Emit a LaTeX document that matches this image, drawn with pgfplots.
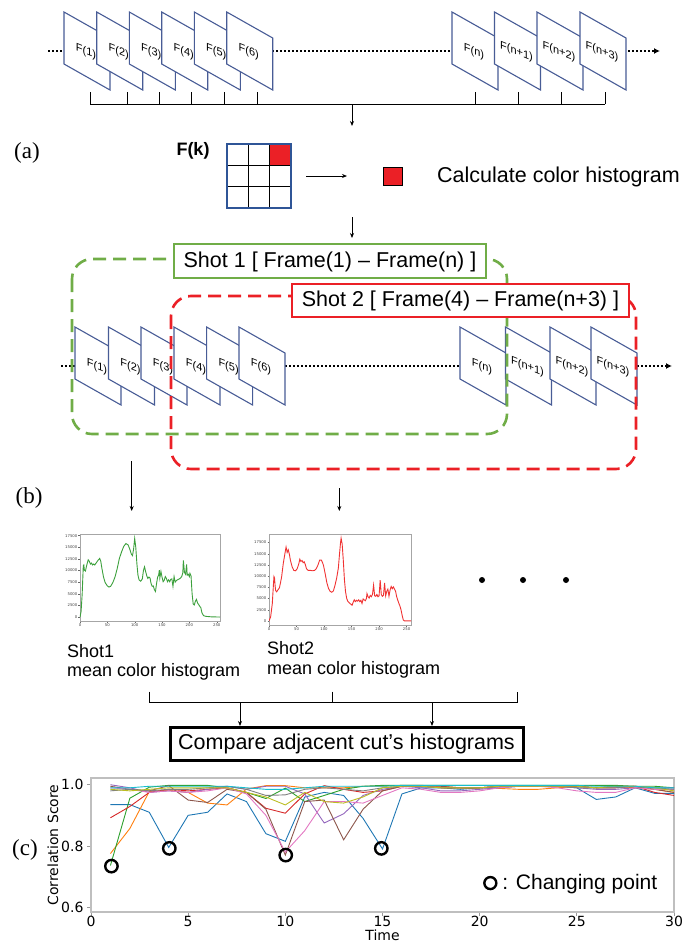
\documentclass[border=0pt]{standalone}
\usepackage{pgfplots}
\pgfplotsset{compat=1.18}
\usepackage{fontspec}
\setmainfont{Liberation Sans}
\newfontfamily\serif{Liberation Serif}
\newfontfamily\djv{DejaVu Sans}
\usetikzlibrary{arrows.meta}

\definecolor{frameblue}{RGB}{72,92,150}
\definecolor{gridblue}{RGB}{47,85,151}
\definecolor{shotgreen}{RGB}{112,173,71}
\definecolor{shotred}{RGB}{235,32,38}
\definecolor{histgreen}{RGB}{60,160,60}
\definecolor{histred}{RGB}{240,50,50}
\definecolor{c1}{HTML}{1F77B4}
\definecolor{c2}{HTML}{FF7F0E}
\definecolor{c3}{HTML}{2CA02C}
\definecolor{c4}{HTML}{D62728}
\definecolor{c5}{HTML}{9467BD}
\definecolor{c6}{HTML}{8C564B}
\definecolor{c7}{HTML}{E377C2}
\definecolor{c8}{HTML}{7F7F7F}
\definecolor{c9}{HTML}{BCBD22}
\definecolor{c10}{HTML}{17BECF}

\newcommand{\fs}[1]{\fontsize{#1}{#1}\selectfont}
% one video frame: left x, top y, label
\newcommand{\frm}[3]{%
  \filldraw[fill=white, draw=frameblue, line width=1.1pt]
    (#1,#2) -- ++(46,26) -- ++(0,52) -- ++(-46,-26) -- cycle;
  \begin{scope}[shift={(#1+22,#2+40)}]
    \node[yslant=-0.4, transform shape, font=\fs{11}, inner sep=0pt] at (0,0) {F(#3)};
  \end{scope}
}

\begin{document}
\begin{tikzpicture}
\useasboundingbox (0,0) rectangle (683pt,-943pt);

\begin{scope}[x=1pt, y=-1pt, >={Stealth[length=5pt,width=4pt]}]
% ---- top row of frames
\draw[line width=2.4pt, dash pattern=on 2.2pt off 1.8pt, -{Latex[length=6pt,width=6pt]}] (48,51) -- (660,51);
\foreach \x/\l in {64/1,96.7/2,129.3/3,161.7/4,194.3/5,226.7/6,452/n,494.5/n+1,537/n+2,580/n+3}
  {\frm{\x}{12}{\l}}
\draw[line width=0.8pt] (90,104) -- (605,104);
\foreach \x in {90,127,159,191,224,257,475,518.6,561.5,605}
  \draw[line width=0.8pt] (\x,104) -- (\x,92);
\draw[->, line width=0.8pt] (352,104) -- (352,126);

% ---- (a)
\node[font=\serif\fs{23}] at (27,153) {(a)};
\node[font=\bfseries\fs{18}] at (193,151) {F(k)};
\fill[shotred] (269.7,144) rectangle (291,165.3);
\draw[line width=0.8pt] (248.3,144) -- (248.3,208) (269.7,144) -- (269.7,208)
  (227,165.3) -- (291,165.3) (227,186.7) -- (291,186.7);
\draw[gridblue, line width=2.6pt] (227,144) rectangle (291,208);
\draw[->, line width=1pt] (306,176) -- (347,176);
\filldraw[fill=shotred, draw=black, line width=0.5pt] (383,167) rectangle (402,185);
\node[anchor=west, font=\fs{21.5}, inner sep=0pt] at (437,177) {Calculate color histogram};
\draw[->, line width=0.8pt] (352,217) -- (352,238);

% ---- middle row of frames
\draw[line width=2.4pt, dash pattern=on 2.2pt off 1.8pt, -{Latex[length=6pt,width=6pt]}] (61,366) -- (672,366);
\foreach \x/\l in {75/1,108.5/2,141/3,174/4,206.6/5,239/6,460/n,505.5/n+1,550/n+2,591/n+3}
  {\frm{\x}{327}{\l}}
\draw[shotgreen, line width=2.6pt, dash pattern=on 13pt off 7pt, rounded corners=20pt] (72,259) rectangle (507,434);
\filldraw[fill=white, draw=shotgreen, line width=2.6pt] (174,244) rectangle (486,278);
\node[font=\fs{21.5}] at (330,261.5) {Shot 1 [ Frame(1) – Frame(n) ]};
\draw[shotred, line width=2.6pt, dash pattern=on 13pt off 7pt, rounded corners=20pt] (171,296) rectangle (636,469);
\filldraw[fill=white, draw=shotred, line width=2.6pt] (292,284) rectangle (629,317);
\node[font=\fs{21.5}] at (460.5,301) {Shot 2 [ Frame(4) – Frame(n+3) ]};

% ---- (b)
\node[font=\serif\fs{23}] at (29,498) {(b)};
\draw[->, line width=0.9pt] (131.7,461) -- (131.7,511);
\draw[->, line width=0.9pt] (339.3,488) -- (339.3,511);
\foreach \x in {482,523,566} \fill (\x,580) circle (3pt);
\node[anchor=west, font=\fs{18}, inner sep=0pt] at (67,651) {Shot1};
\node[anchor=west, font=\fs{18}, inner sep=0pt] at (67,672) {mean color histogram};
\node[anchor=west, font=\fs{18}, inner sep=0pt] at (267,648) {Shot2};
\node[anchor=west, font=\fs{18}, inner sep=0pt] at (267,670) {mean color histogram};
\draw[line width=0.8pt] (149,691.7) -- (149,702.7) -- (517,702.7) -- (517,691.7)
  (332,691.7) -- (332,702.7);
\draw[->, line width=0.8pt] (240,702.7) -- (240,726);
\draw[->, line width=0.8pt] (432,702.7) -- (432,726);
\draw[line width=3pt] (170,727) rectangle (523,760);
\node[font=\fs{21.5}] at (346.5,744) {Compare adjacent cut's histograms};

% ---- (c)
\node[font=\serif\fs{23}] at (25,850) {(c)};
\end{scope}

% ---- small histograms
\pgfplotsset{hist/.style={
  anchor=north west, scale only axis,
  xmin=0, xmax=256, xtick={0,50,...,250},
  ytick={0,2500,...,17500},
  scaled y ticks=false,
  /pgf/number format/1000 sep={},
  /pgf/number format/assume math mode=true,
  tick label style={font=\djv\fs{3.8}, text=black!75, inner sep=1pt},
  tick pos=left, tick align=outside, major tick length=1.5pt,
  tick style={black!60, line width=0.3pt},
  axis line style={black!35, line width=0.9pt},
}}
\begin{axis}[hist, at={(80pt,-534pt)}, width=140pt, height=87pt, ymin=-850, ymax=17850]
\addplot[histgreen, line width=0.9pt] coordinates {
(0,0)(2,1200)(4,5000)(6,11000)(7,11200)(8,10100)(10,9900)(12,11000)(15,12300)(17,12000)
(19,11400)(21,11600)(23,11200)(25,11400)(27,11200)(30,11700)(33,12200)(36,12600)(38,12000)
(40,10500)(43,8600)(46,7400)(50,6700)(53,6450)(56,6600)(60,7400)(64,8600)(68,10400)(72,12600)
(76,14000)(80,15200)(84,15800)(88,15500)(91,14600)(94,13500)(96,13200)(98,14600)(100,16900)
(102,15000)(104,11500)(106,9000)(108,8000)(111,7700)(114,8200)(116,10000)(118,10800)(120,9800)
(122,8900)(124,8300)(126,8600)(128,8400)(130,7200)(132,6600)(134,6700)(136,5900)(138,5500)
(140,7200)(142,8600)(144,9100)(145,10100)(146,8400)(148,9800)(150,8600)(152,7600)(154,7900)
(156,8700)(158,8300)(160,7600)(162,8000)(164,7600)(166,8100)(168,8200)(170,6600)(172,8700)
(174,7500)(176,7800)(178,8000)(180,8100)(183,8300)(186,8700)(188,9500)(189,12200)(191,9600)
(193,9200)(195,11300)(196,9000)(198,9200)(200,8700)(201,9400)(203,8900)(205,5000)(207,2800)
(209,2600)(211,3400)(213,3800)(215,3000)(217,2700)(219,2300)(221,2000)(223,900)(226,300)
(230,150)(240,50)(256,0)};
\end{axis}
\begin{axis}[hist, at={(269pt,-534pt)}, width=142pt, height=91pt, xmax=258, ymin=-925, ymax=19425]
\addplot[histred, line width=0.9pt] coordinates {
(0,0)(3,900)(6,3900)(8,8000)(9,9900)(10,9600)(11,8000)(12,6800)(14,6500)(16,6900)(19,7400)
(21,8600)(23,9900)(26,12900)(29,15100)(31,16500)(33,15300)(35,15900)(37,14900)(39,13500)
(42,12100)(45,11300)(48,11200)(51,11600)(54,12700)(56,13800)(58,13300)(60,13500)(62,13000)
(64,13200)(66,12600)(68,11700)(71,11300)(75,11300)(79,11200)(83,11300)(86,11700)(89,12500)
(92,13600)(95,13600)(97,13100)(99,12400)(102,10600)(105,8600)(108,7300)(111,6600)(114,6400)
(117,6700)(120,8000)(123,9600)(126,11800)(128,14800)(130,17500)(131,18500)(133,17100)
(135,13500)(137,9300)(139,6600)(141,5100)(143,4400)(146,4000)(149,3700)(151,3500)(153,4200)
(155,4700)(157,4300)(159,4600)(161,4400)(163,4700)(165,4300)(167,4600)(169,3900)(171,4900)
(173,4700)(175,4500)(177,5000)(178,6100)(180,5400)(182,5100)(184,5700)(186,5400)(188,5900)
(190,8000)(192,5600)(194,5500)(196,5900)(198,5400)(200,5600)(202,9100)(204,5900)(206,5500)
(208,5700)(210,8500)(212,5600)(214,6600)(216,7100)(218,5500)(220,6900)(222,7700)(224,7200)
(226,7600)(228,7100)(230,6600)(232,5400)(234,4600)(236,3900)(238,3300)(240,2400)(242,1200)
(244,200)(246,0)(258,0)};
\end{axis}

% ---- correlation chart
\begin{axis}[
  at={(91pt,-778pt)}, anchor=north west, scale only axis,
  width=583pt, height=134pt,
  xmin=0, xmax=30, ymin=0.584, ymax=1.022,
  xtick={0,5,...,30}, ytick={0.6,0.8,1.0},
  yticklabel style={/pgf/number format/.cd, fixed, fixed zerofill, precision=1},
  /pgf/number format/assume math mode=true,
  tick label style={font=\djv\fs{14}},
  xticklabel style={yshift=3pt},
  tick pos=left, tick align=outside, major tick length=4pt,
  tick style={black!40, line width=0.8pt},
  axis line style={black!25, line width=1.2pt},
  xlabel={Time}, ylabel={Correlation Score},
  label style={font=\djv\fs{14}},
  xlabel style={yshift=4pt}, ylabel style={yshift=-4pt},
  every axis plot/.append style={line width=0.9pt},
  legend style={draw=none, fill=none, at={(0.975,0.216)}, anchor=east,
    font=\fs{21}, inner sep=0pt},
]
\addlegendimage{only marks, mark=o, mark size=6pt, mark options={line width=2.4pt, draw=black}}
\addlegendentry{\hspace{4pt}: Changing point}
\addplot[c1] coordinates {(1,0.935)(2,0.935)(3,0.91)(4,0.795)(5,0.90)(6,0.91)(7,0.97)(8,0.945)(9,0.84)(10,0.815)(11,0.96)(12,0.975)(13,0.965)(14,0.89)(15,0.79)(16,0.97)(17,0.99)(18,0.99)(19,0.985)(20,0.99)(21,0.99)(22,0.995)(23,0.995)(24,0.995)(25,0.99)(26,0.952)(27,0.96)(28,0.99)(29,0.972)(30,0.972)};
\addplot[c2] coordinates {(1,0.775)(2,0.857)(3,0.978)(4,0.982)(5,0.975)(6,0.94)(7,0.934)(8,0.986)(9,0.997)(10,0.997)(11,0.99)(12,0.99)(13,0.99)(14,0.995)(15,0.995)(16,0.998)(17,0.998)(18,0.995)(19,0.99)(20,0.99)(21,0.988)(22,0.985)(23,0.985)(24,0.99)(25,0.995)(26,0.99)(27,0.995)(28,0.99)(29,0.985)(30,0.975)};
\addplot[c3] coordinates {(1,0.736)(2,0.956)(3,0.992)(4,0.998)(5,0.998)(6,0.998)(7,0.99)(8,0.975)(9,0.955)(10,0.989)(11,0.945)(12,0.965)(13,0.985)(14,0.995)(15,0.998)(16,0.998)(17,0.998)(18,0.998)(19,0.998)(20,0.998)(21,0.998)(22,0.998)(23,0.998)(24,0.998)(25,0.998)(26,0.998)(27,0.998)(28,0.995)(29,0.995)(30,0.99)};
\addplot[c4] coordinates {(1,0.892)(2,0.929)(3,0.975)(4,0.985)(5,0.98)(6,0.985)(7,0.99)(8,0.975)(9,0.923)(10,0.907)(11,0.97)(12,0.997)(13,0.985)(14,0.975)(15,0.98)(16,0.995)(17,0.995)(18,0.99)(19,0.99)(20,0.99)(21,0.995)(22,0.995)(23,0.995)(24,0.995)(25,0.995)(26,0.99)(27,0.99)(28,0.995)(29,0.975)(30,0.965)};
\addplot[c5] coordinates {(1,1.0)(2,0.99)(3,0.975)(4,0.98)(5,0.975)(6,0.985)(7,0.995)(8,0.985)(9,0.995)(10,0.995)(11,0.97)(12,0.875)(13,0.905)(14,0.965)(15,0.985)(16,0.995)(17,0.99)(18,0.98)(19,0.98)(20,0.985)(21,0.99)(22,0.995)(23,0.995)(24,0.995)(25,0.99)(26,0.985)(27,0.985)(28,0.99)(29,0.99)(30,0.99)};
\addplot[c6] coordinates {(1,0.995)(2,0.985)(3,0.98)(4,0.997)(5,0.95)(6,0.942)(7,0.985)(8,0.975)(9,0.92)(10,0.77)(11,0.945)(12,0.95)(13,0.82)(14,0.92)(15,0.98)(16,0.995)(17,0.995)(18,0.995)(19,0.99)(20,0.99)(21,0.995)(22,0.995)(23,0.995)(24,0.995)(25,0.995)(26,0.99)(27,0.995)(28,0.995)(29,0.985)(30,0.975)};
\addplot[c7] coordinates {(1,0.99)(2,0.985)(3,0.975)(4,0.98)(5,0.975)(6,0.98)(7,0.99)(8,0.97)(9,0.90)(10,0.78)(11,0.85)(12,0.945)(13,0.945)(14,0.94)(15,0.965)(16,0.99)(17,0.985)(18,0.975)(19,0.975)(20,0.98)(21,0.99)(22,0.995)(23,0.995)(24,0.99)(25,0.98)(26,0.975)(27,0.975)(28,0.99)(29,0.985)(30,0.985)};
\addplot[c8] coordinates {(1,0.98)(2,0.985)(3,0.98)(4,0.985)(5,0.985)(6,0.99)(7,0.995)(8,0.985)(9,0.965)(10,0.967)(11,0.985)(12,0.99)(13,0.985)(14,0.98)(15,0.99)(16,0.995)(17,0.995)(18,0.99)(19,0.99)(20,0.99)(21,0.995)(22,0.995)(23,0.995)(24,0.995)(25,0.99)(26,0.99)(27,0.99)(28,0.995)(29,0.99)(30,0.985)};
\addplot[c9] coordinates {(1,0.985)(2,0.98)(3,0.985)(4,0.99)(5,0.99)(6,0.99)(7,0.99)(8,0.975)(9,0.96)(10,0.934)(11,0.975)(12,0.945)(13,0.94)(14,0.96)(15,0.99)(16,0.995)(17,0.995)(18,0.99)(19,0.99)(20,0.99)(21,0.995)(22,0.995)(23,0.995)(24,0.995)(25,0.995)(26,0.99)(27,0.995)(28,0.995)(29,0.99)(30,0.98)};
\addplot[c10] coordinates {(1,0.99)(2,0.99)(3,0.995)(4,0.995)(5,0.995)(6,0.995)(7,0.995)(8,0.99)(9,0.985)(10,0.985)(11,0.99)(12,0.995)(13,0.995)(14,0.995)(15,0.995)(16,0.998)(17,0.998)(18,0.998)(19,0.998)(20,0.998)(21,0.998)(22,0.998)(23,0.998)(24,0.998)(25,0.998)(26,0.995)(27,0.995)(28,0.995)(29,0.99)(30,0.99)};
\addplot[only marks, mark=o, mark size=6.2pt, mark options={line width=2.4pt, draw=black}, forget plot]
  coordinates {(1.05,0.734)(4.03,0.792)(10.02,0.77)(14.94,0.792)};
\end{axis}
\end{tikzpicture}
\end{document}
